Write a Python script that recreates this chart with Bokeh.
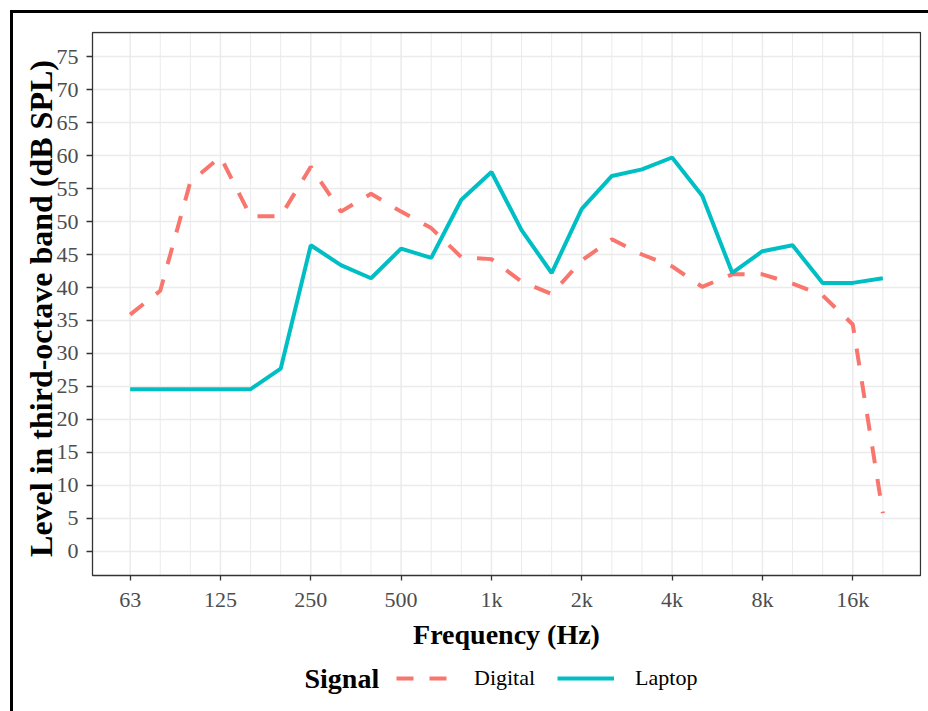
import math
from bokeh.plotting import figure
from bokeh.models import (FixedTicker, Legend, LegendItem, Label, Range1d,
                          ColumnDataSource, BoxAnnotation)
from bokeh.embed import file_html
from bokeh.resources import INLINE

bands = ["63", "80", "100", "125", "160", "200", "250", "315", "400", "500",
         "630", "800", "1k", "1.25k", "1.6k", "2k", "2.5k", "3.15k", "4k", "5k",
         "6.3k", "8k", "10k", "12.5k", "16k", "20k"]
digital = [35.9, 39.5, 56.0, 59.8, 50.8, 50.8, 58.3, 51.5, 54.2, 51.5,
           49.0, 44.6, 44.3, 40.9, 39.0, 44.1, 47.3, 45.0, 43.2, 40.1,
           42.0, 42.0, 40.6, 38.8, 34.4, 5.8]
laptop = [24.6, 24.6, 24.6, 24.6, 24.6, 27.7, 46.4, 43.4, 41.4, 45.9,
          44.5, 53.3, 57.5, 48.7, 42.2, 51.9, 56.9, 57.9, 59.7, 53.9,
          42.2, 45.5, 46.4, 40.7, 40.7, 41.4]
tick_bands = ["63", "125", "250", "500", "1k", "2k", "4k", "8k", "16k"]
y_ticks = list(range(0, 80, 5))

idx = list(range(len(bands)))
src = ColumnDataSource(dict(x=idx, digital=digital, laptop=laptop, band=bands))

FONT = "Liberation Serif"
RED = "#F8766D"
TEAL = "#00BFC4"
GRID = "#EBEBEB"

# panel (data) limits, ggplot-style expansion
PX0, PX1 = -1.25, len(bands) - 1 + 1.25
PY0, PY1 = -3.64, 78.64
PXU = (PX1 - PX0) / 828.0        # data units per pixel, x
PYU = (PY1 - PY0) / 543.0        # data units per pixel, y
# the drawing frame also holds the axis titles and the legend row
FX0, FX1 = PX0 - 79 * PXU, PX1 + PXU
FY1 = PY1 + PYU
FY0 = FY1 - 680 * PYU

p = figure(frame_width=908, frame_height=680, output_backend="svg",
           toolbar_location=None,
           x_range=Range1d(FX0, FX1), y_range=Range1d(FY0, FY1),
           min_border_left=0, min_border_right=7, min_border_top=18,
           min_border_bottom=0)
p.styles = {"margin-left": "10px", "margin-top": "10px",
            "border-left": "3px solid black", "border-top": "3px solid black"}
p.outline_line_color = None
p.xgrid.visible = False
p.ygrid.visible = False

major_x = [bands.index(b) for b in tick_bands]
minor_x = [i for i in idx if i not in major_x]

# grid lines limited to the panel
p.segment(x0=minor_x, x1=minor_x, y0=[PY0] * len(minor_x),
          y1=[PY1] * len(minor_x), line_color=GRID, line_width=1.0)
p.segment(x0=major_x, x1=major_x, y0=[PY0] * len(major_x),
          y1=[PY1] * len(major_x), line_color=GRID, line_width=1.5)
p.segment(x0=[PX0] * len(y_ticks), x1=[PX1] * len(y_ticks), y0=y_ticks,
          y1=y_ticks, line_color=GRID, line_width=1.5)

r_dig = p.line("x", "digital", source=src, line_color=RED, line_width=4,
               line_dash="17 16")
r_lap = p.line("x", "laptop", source=src, line_color=TEAL, line_width=4)

panel = BoxAnnotation(left=PX0, right=PX1, bottom=PY0, top=PY1,
                      fill_alpha=0, line_color="#333333", line_alpha=1.0,
                      line_width=1.3)
p.add_layout(panel)

p.xaxis.ticker = FixedTicker(ticks=major_x, minor_ticks=[])
p.xaxis.major_label_overrides = {i: bands[i] for i in major_x}
p.xaxis.fixed_location = PY0
p.yaxis.ticker = FixedTicker(ticks=y_ticks, minor_ticks=[])
p.yaxis.fixed_location = PX0

for ax in (p.xaxis, p.yaxis):
    ax.axis_line_color = None
    ax.major_tick_line_color = "#333333"
    ax.major_tick_line_width = 1.3
    ax.major_tick_in = 0
    ax.minor_tick_line_color = None
    ax.major_label_text_font = FONT
    ax.major_label_text_font_size = "22px"
    ax.major_label_text_color = "#4D4D4D"

p.xaxis.major_tick_out = 5
p.yaxis.major_tick_out = 6
p.xaxis.major_label_standoff = 6
p.yaxis.major_label_standoff = 8

xtitle = Label(x=(PX0 + PX1) / 2, y=PY0 - 59 * PYU, text="Frequency (Hz)",
               text_font=FONT, text_font_size="28px", text_font_style="bold",
               text_color="black", text_align="center",
               text_baseline="middle")
p.add_layout(xtitle)

ytitle = Label(x=PX0 - 52 * PXU, y=PY1 - 276 * PYU,
               text="Level in third-octave band (dB SPL)", angle=math.pi / 2,
               text_font=FONT, text_font_size="32px", text_font_style="bold",
               text_color="black", text_align="center",
               text_baseline="middle")
p.add_layout(ytitle)

legend = Legend(items=[LegendItem(label="Digital", renderers=[r_dig]),
                       LegendItem(label="Laptop", renderers=[r_lap])],
                orientation="horizontal", location=(383, 20),
                label_text_font=FONT, label_text_font_size="22px",
                label_text_color="black",
                glyph_width=57, glyph_height=20, label_standoff=21,
                spacing=22, padding=6, margin=0,
                border_line_color=None, background_fill_alpha=0)
p.add_layout(legend)

sig = Label(x=PX0 + 212 * PXU, y=PY0 - 103 * PYU, text="Signal",
            text_font=FONT, text_font_size="28px", text_font_style="bold",
            text_color="black", text_baseline="middle", text_align="left")
p.add_layout(sig)

open("out.html", "w").write(file_html(p, INLINE))
